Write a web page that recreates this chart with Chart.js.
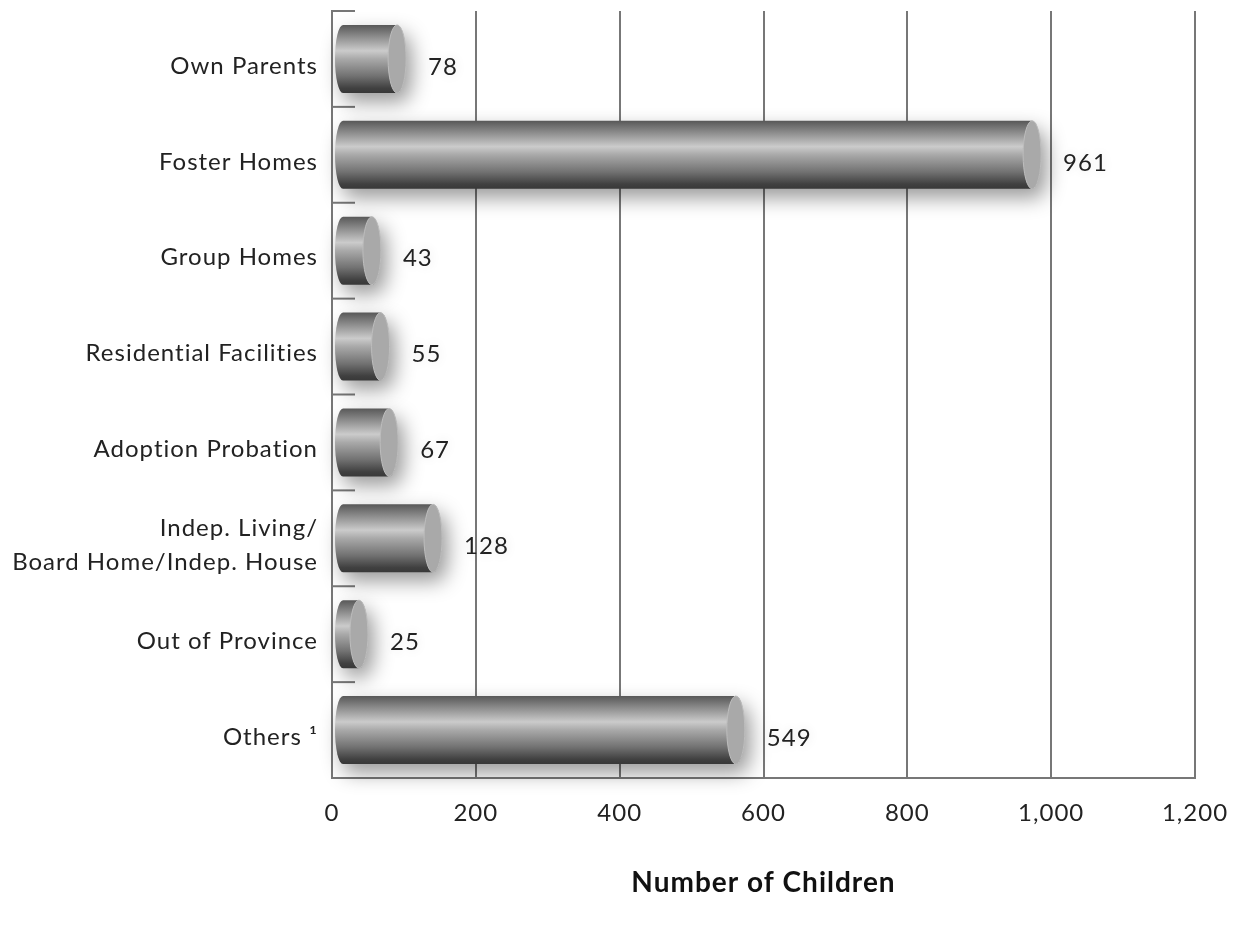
<!DOCTYPE html>
<html>
<head>
<meta charset="utf-8">
<script src="https://cdn.jsdelivr.net/npm/chart.js@4"></script>
<style>
  html, body { margin: 0; padding: 0; background: #fff; }
  #wrap { width: 1244px; height: 928px; }
</style>
</head>
<body>
<div id="wrap"><canvas id="grafico" width="1244" height="928"></canvas></div>
<script>
const categorias = [
    'Own Parents',
    'Foster Homes',
    'Group Homes',
    'Residential Facilities',
    'Adoption Probation',
    ['Indep. Living/', 'Board Home/Indep. House'],
    'Out of Province',
    'Others \u00B9'
];
const criancas = [78, 961, 43, 55, 67, 128, 25, 549];
const ticksX = [0, 200, 400, 600, 800, 1000, 1200];

const corLinha = '#777777';
const fonte = 'Lato, "Open Sans", sans-serif';

// espacamento das letras mais aberto, como no original
const espacamento = {
    id: 'espacamento',
    beforeDraw(chart) { chart.ctx.letterSpacing = '1px'; }
};

// desenha as barras como cilindros e os valores ao lado
const cilindros = {
    id: 'cilindros',
    beforeDatasetsDraw(chart) {
        // pequenas marcas entre categorias no eixo da esquerda
        const ctx = chart.ctx;
        const y = chart.scales.y;
        const area = chart.chartArea;
        ctx.save();
        ctx.strokeStyle = corLinha;
        ctx.lineWidth = 2;
        for (let i = 0; i <= categorias.length; i++) {
            const py = y.getPixelForValue(i - 0.5);
            ctx.beginPath();
            ctx.moveTo(area.left, py);
            ctx.lineTo(area.left + 23, py);
            ctx.stroke();
        }
        ctx.restore();
    },
    afterDatasetsDraw(chart) {
        const ctx = chart.ctx;
        const meta = chart.getDatasetMeta(0);
        meta.data.forEach((bar, i) => {
            const h = bar.height;
            const topo = bar.y - h / 2;
            const base = bar.y + h / 2;
            const rCap = 9;
            const fim = bar.x + rCap;
            const ini = bar.base + 10;

            const grad = ctx.createLinearGradient(0, topo, 0, base);
            grad.addColorStop(0, '#585858');
            grad.addColorStop(0.12, '#7c7c7c');
            grad.addColorStop(0.38, '#cbcbcb');
            grad.addColorStop(0.5, '#a9a9a9');
            grad.addColorStop(0.75, '#727272');
            grad.addColorStop(0.93, '#404040');
            grad.addColorStop(1, '#383838');

            ctx.save();
            ctx.shadowColor = 'rgba(0,0,0,0.40)';
            ctx.shadowBlur = 20;
            ctx.shadowOffsetX = 6;
            ctx.shadowOffsetY = 9;
            ctx.beginPath();
            ctx.moveTo(ini, topo);
            ctx.lineTo(fim, topo);
            ctx.ellipse(fim, bar.y, rCap, h / 2, 0, -Math.PI / 2, Math.PI / 2);
            ctx.lineTo(ini, base);
            ctx.ellipse(ini, bar.y, 8, h / 2, 0, Math.PI / 2, Math.PI * 1.5);
            ctx.closePath();
            ctx.fillStyle = grad;
            ctx.fill();
            ctx.restore();

            // tampa do cilindro
            ctx.save();
            ctx.beginPath();
            ctx.ellipse(fim, bar.y, rCap, h / 2, 0, 0, Math.PI * 2);
            ctx.fillStyle = '#a9a9a9';
            ctx.fill();
            ctx.strokeStyle = '#bdbdbd';
            ctx.lineWidth = 1;
            ctx.stroke();
            ctx.restore();

            // valor
            ctx.save();
            ctx.font = '24px ' + fonte;
            ctx.fillStyle = '#222';
            ctx.textAlign = 'left';
            ctx.textBaseline = 'middle';
            ctx.shadowColor = 'rgba(0,0,0,0.12)';
            ctx.shadowBlur = 12;
            ctx.fillText(String(criancas[i]), bar.x + 40, bar.y + 8);
            ctx.restore();
        });
    }
};

new Chart(document.getElementById('grafico'), {
    type: 'bar',
    data: {
        labels: categorias,
        datasets: [{
            label: 'Number of Children',
            data: criancas,
            backgroundColor: 'rgba(0,0,0,0)',
            borderWidth: 0,
            categoryPercentage: 1,
            barPercentage: 0.71
        }]
    },
    options: {
        indexAxis: 'y',
        responsive: false,
        animation: false,
        layout: { padding: { top: 11, right: 49, left: 0, bottom: 0 } },
        plugins: {
            legend: { display: false },
            tooltip: { enabled: false }
        },
        scales: {
            x: {
                min: 0,
                max: 1200,
                afterBuildTicks(scale) {
                    scale.ticks = ticksX.map(v => ({ value: v }));
                },
                afterFit(scale) {
                    scale.height = 150;
                    scale.paddingLeft = 0;
                    scale.paddingRight = 0;
                },
                grid: { color: corLinha, lineWidth: 2, drawTicks: false },
                border: { display: true, color: corLinha, width: 2 },
                ticks: {
                    padding: 21,
                    color: '#222',
                    font: { family: fonte, size: 24 },
                    callback: v => v.toLocaleString('en-US')
                },
                title: {
                    display: true,
                    text: 'Number of Children',
                    color: '#111',
                    font: { family: fonte, size: 28, weight: 'bold' },
                    padding: { top: 0, bottom: 28 }
                }
            },
            y: {
                afterFit(scale) {
                    scale.width = 332;
                    scale.paddingTop = 0;
                    scale.paddingBottom = 0;
                },
                grid: { display: false, drawTicks: false },
                border: { display: true, color: corLinha, width: 2 },
                ticks: {
                    padding: 14,
                    labelOffset: 7,
                    color: '#222',
                    font: { family: fonte, size: 24, lineHeight: 1.38 }
                }
            }
        }
    },
    plugins: [espacamento, cilindros]
});
</script>
</body>
</html>
